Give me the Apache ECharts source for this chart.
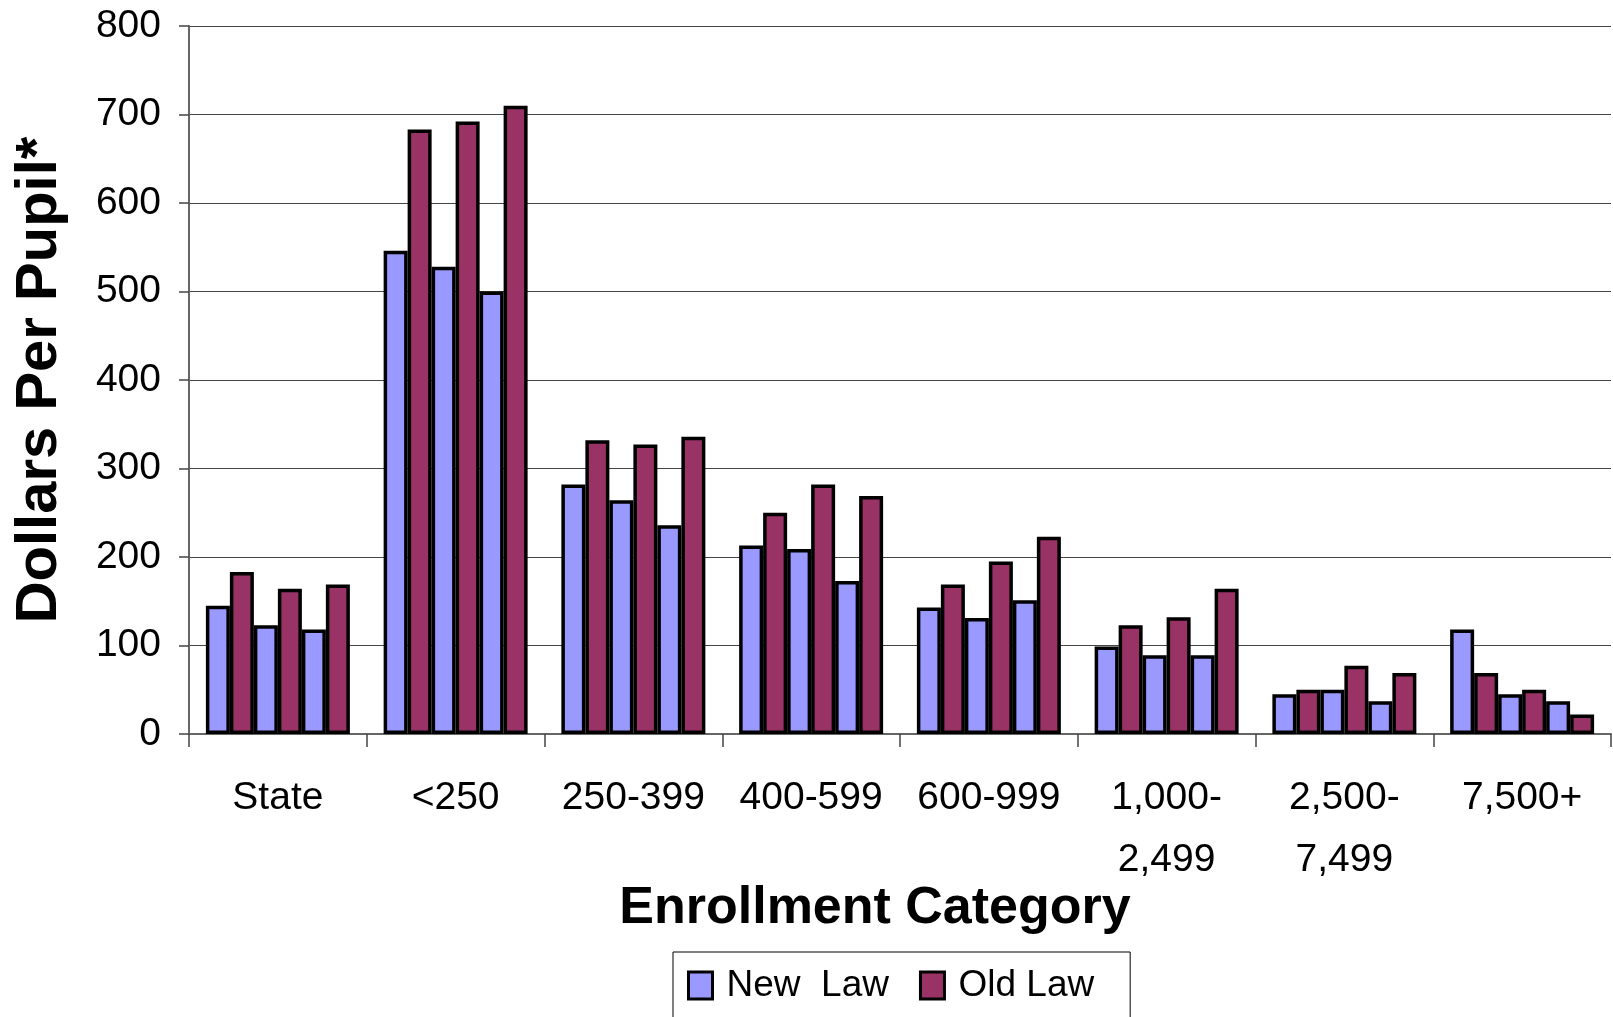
<!DOCTYPE html>
<html>
<head>
<meta charset="utf-8">
<script src="https://cdn.jsdelivr.net/npm/echarts@6/dist/echarts.min.js"></script>
<style>
html,body{margin:0;padding:0;background:#fff;}
#chart{width:1613px;height:1017px;}
</style>
</head>
<body>
<div id="chart"></div>
<script>
const categories = ['State', '<250', '250-399', '400-599', '600-999', '1,000-\n2,499', '2,500-\n7,499', '7,500+'];
const yTicks = [0, 100, 200, 300, 400, 500, 600, 700, 800];
const newLaw1 = [145, 546, 282, 213, 143, 99, 45, 118];
const oldLaw1 = [183, 683, 332, 250, 169, 123, 50, 69];
const newLaw2 = [123, 528, 264, 209, 131, 89, 50, 45];
const oldLaw2 = [164, 692, 327, 282, 195, 132, 77, 50];
const newLaw3 = [118, 500, 236, 173, 151, 89, 37, 37];
const oldLaw3 = [169, 710, 336, 269, 223, 164, 69, 22];
const seriesNames = ['New  Law', 'Old Law'];

const NEW_COLOR = '#9999FF';
const OLD_COLOR = '#993366';
const SANS = "'Liberation Sans', Arial, sans-serif";

function barSeries(name, data, color) {
  return {
    name: name,
    type: 'bar',
    data: data,
    barGap: '0%',
    barCategoryGap: '19%',
    itemStyle: { color: color, borderColor: '#000', borderWidth: 3.5 },
    emphasis: { disabled: true },
    animation: false
  };
}

const chart = echarts.init(document.getElementById('chart'), null, { renderer: 'canvas' });
chart.setOption({
  animation: false,
  backgroundColor: '#fff',
  grid: { left: 189, right: 2, top: 26, bottom: 283, containLabel: false },
  legend: {
    data: seriesNames,
    left: 673,
    top: 952,
    orient: 'horizontal',
    icon: 'rect',
    padding: [15, 36, 60, 14],
    itemGap: 30,
    itemWidth: 24,
    itemHeight: 27,
    borderColor: '#000',
    borderWidth: 1,
    selectedMode: false,
    itemStyle: { borderColor: '#000', borderWidth: 3 },
    textStyle: { fontFamily: SANS, fontSize: 37, color: '#000', padding: [0, 0, 0, 9] }
  },
  xAxis: {
    type: 'category',
    data: categories,
    name: 'Enrollment Category',
    nameLocation: 'middle',
    nameMoveOverlap: false,
    nameGap: 149,
    nameTextStyle: { fontFamily: SANS, fontWeight: 'bold', fontSize: 52, color: '#000', padding: [0, 50, 0, 0] },
    axisLine: { lineStyle: { color: '#666', width: 2 } },
    axisTick: { show: true, length: 13, lineStyle: { color: '#444', width: 1.5 } },
    axisLabel: { fontFamily: SANS, fontSize: 39, color: '#000', margin: 33, lineHeight: 62, interval: 0 },
    splitLine: { show: false }
  },
  yAxis: {
    type: 'value',
    min: 0,
    max: 800,
    interval: 100,
    name: 'Dollars Per Pupil*',
    nameLocation: 'middle',
    nameMoveOverlap: false,
    nameRotate: 90,
    nameGap: 120,
    nameTextStyle: { fontFamily: SANS, fontWeight: 'bold', fontSize: 58, color: '#000' },
    axisLine: { show: true, lineStyle: { color: '#666', width: 2 } },
    axisTick: { show: true, length: 10, lineStyle: { color: '#444', width: 1.5 } },
    axisLabel: {
      fontFamily: SANS, fontSize: 39, color: '#000', margin: 28,
      formatter: function (v) { return yTicks.indexOf(v) >= 0 ? String(v) : ''; }
    },
    splitLine: { show: true, lineStyle: { color: '#444', width: 1.2 } }
  },
  series: [
    barSeries(seriesNames[0], newLaw1, NEW_COLOR),
    barSeries(seriesNames[1], oldLaw1, OLD_COLOR),
    barSeries(seriesNames[0], newLaw2, NEW_COLOR),
    barSeries(seriesNames[1], oldLaw2, OLD_COLOR),
    barSeries(seriesNames[0], newLaw3, NEW_COLOR),
    barSeries(seriesNames[1], oldLaw3, OLD_COLOR)
  ]
});
</script>
</body>
</html>
